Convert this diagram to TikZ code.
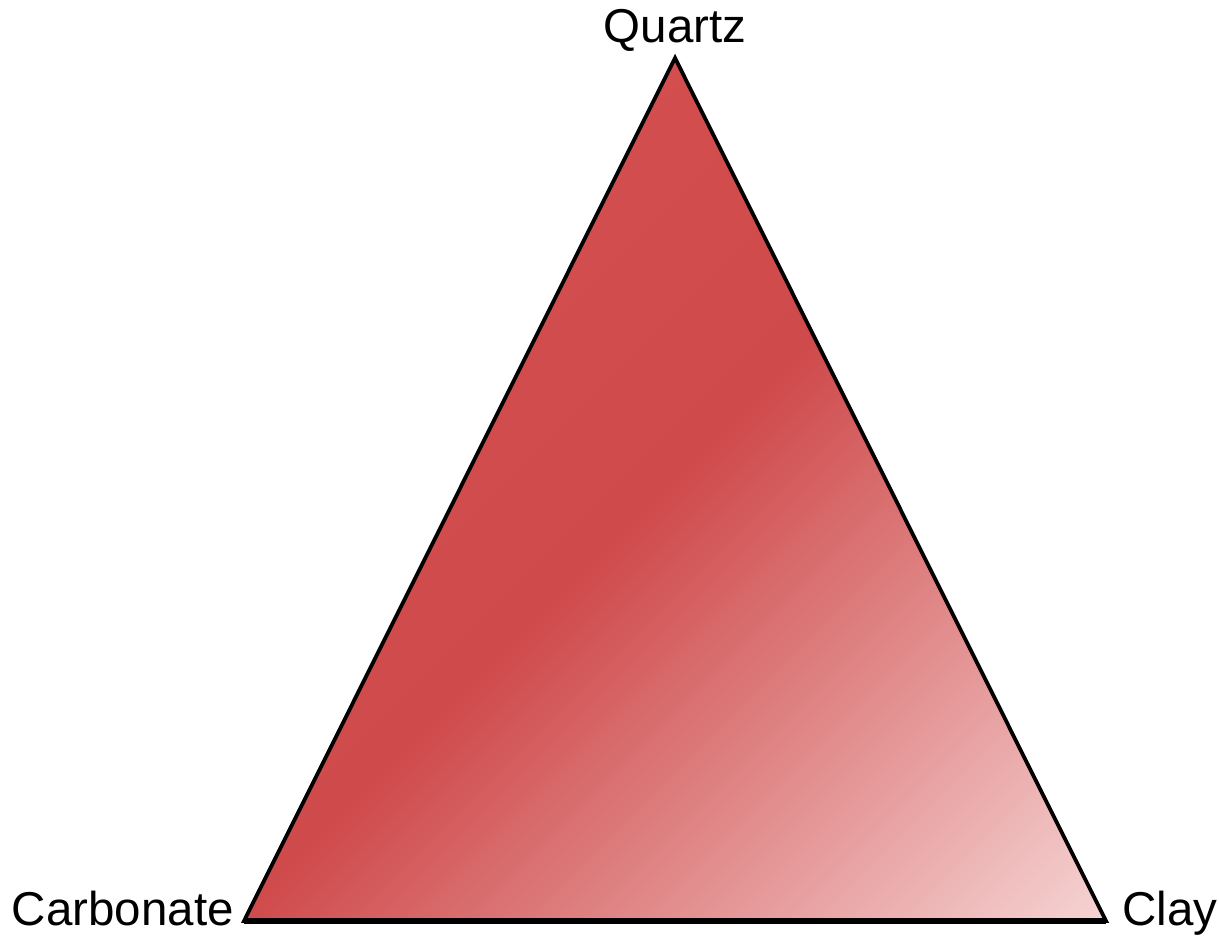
\documentclass[tikz,border=0pt]{standalone}
\usepackage{fontspec}
\setmainfont{Liberation Sans}
\definecolor{redA}{HTML}{D34E4F}
\definecolor{redB}{HTML}{CF4A4B}
\definecolor{pinkC}{HTML}{F6D4D4}
\pgfdeclarehorizontalshading{terneshade}{100bp}{color(0bp)=(redA); color(33.6bp)=(redA); color(49.7bp)=(redB); color(80.7bp)=(pinkC); color(100bp)=(pinkC)}
\tikzset{
  lbl/.style={font=\fontsize{47.5bp}{57bp}\selectfont, inner sep=0pt, text=black},
  edgeline/.style={line width=3.8bp, line join=miter, draw=black},
  baseline/.style={line width=6bp, draw=black}
}
\begin{document}
\begin{tikzpicture}[x=1bp,y=1bp]
\useasboundingbox[fill=white] (0,0) rectangle (1219,940);
\coordinate (Q) at (675,882);
\coordinate (Cb) at (244,19);
\coordinate (Cl) at (1106,19);
\begin{scope}
  \clip (Q) -- (Cb) -- (Cl) -- cycle;
  \shade[shading=terneshade, shading angle=-45] (175,-48) rectangle (1175,952);
\end{scope}
\draw[edgeline] (Q) -- (Cb) -- (Cl) -- cycle;
\draw[baseline] (Cb) -- (Cl);
\node[lbl, anchor=base] (quartz) at (675,897) {Quartz};
\node[lbl, anchor=base east] (carb) at (234,14) {Carbonate};
\node[lbl, anchor=base west] (clay) at (1122,14) {Clay};
\end{tikzpicture}
\end{document}
